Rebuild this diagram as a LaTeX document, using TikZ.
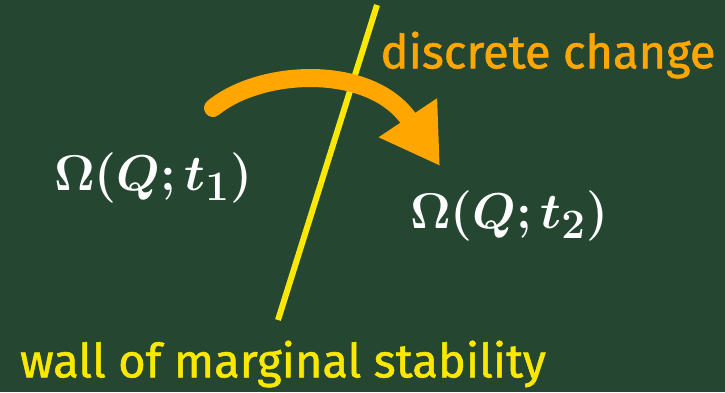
\documentclass[tikz,border=0pt]{standalone}
\usepackage{fontspec}
\setmainfont{Fira Sans}
\newfontfamily\chalkfont[FakeBold=1.2]{Fira Sans}
\usepackage{amsmath, amssymb, bm}
\usetikzlibrary{arrows.meta,positioning}

\definecolor{boardgreen}{RGB}{37,71,50}
\definecolor{chalkyellow}{RGB}{250,232,0}
\definecolor{chalkorange}{RGB}{255,166,0}

\begin{document}
\begin{tikzpicture}[x=1pt, y=-1pt,
    chalktext/.style={font=\chalkfont\fontsize{47}{56}\selectfont, inner sep=0pt},
    mathlabel/.style={text=white, font=\Huge, scale=2.02, inner sep=0pt}]
  % 黑板
  \fill[boardgreen] (0,0) rectangle (725,392);
  \useasboundingbox (0,0) rectangle (725,392);

  % 墙
  \coordinate (walltop) at (377,5);
  \coordinate (wallbot) at (278,320);
  \draw[chalkyellow, line width=6pt] (walltop) -- (wallbot);

  % 文字
  \node[chalktext, text=chalkyellow] (wall) at (283,364) {wall of marginal stability};
  \node[chalktext, text=chalkorange] (change) at (548,55) {discrete change};
  \node[mathlabel] (omega1) at (153,178) {$\bm{\Omega(Q;t_1)}$};
  \node[mathlabel] (omega2) at (509,216) {$\bm{\Omega(Q;t_2)}$};

  % 箭头
  \coordinate (arrstart) at (213,108);
  \coordinate (arrend) at (440,166);
  \draw[chalkorange, line width=18pt, line cap=round,
        -{Triangle[length=58pt, width=66pt]}]
    (arrstart) .. controls (262,68) and (372,64) .. (arrend);
\end{tikzpicture}
\end{document}
